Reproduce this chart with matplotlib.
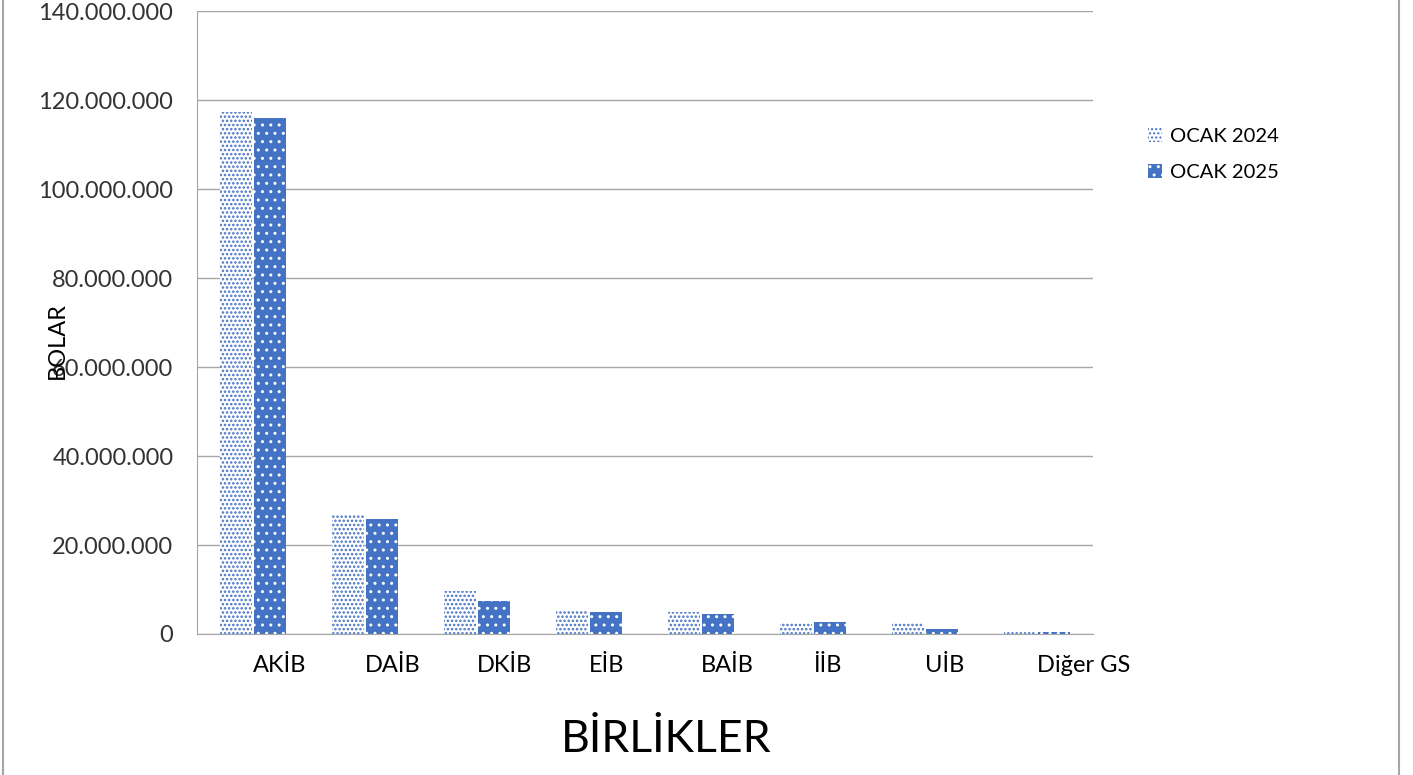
import matplotlib
matplotlib.use("Agg")
import matplotlib.pyplot as plt
from matplotlib.lines import Line2D
from matplotlib.ticker import FuncFormatter
import numpy as np

categories = ["AKİB", "DAİB", "DKİB", "EİB", "BAİB", "İİB", "UİB", "Diğer GS"]
ocak_2024 = [117.4e6, 26.7e6, 9.7e6, 5.45e6, 4.9e6, 2.4e6, 2.55e6, 0.6e6]
ocak_2025 = [116.0e6, 25.8e6, 7.4e6, 4.9e6, 4.6e6, 2.6e6, 1.2e6, 0.35e6]
series_labels = ["OCAK 2024", "OCAK 2025"]
y_ticks = [0, 20e6, 40e6, 60e6, 80e6, 100e6, 120e6, 140e6]

plt.rcParams["font.family"] = ["Lato", "DejaVu Sans"]

W, H = 1413, 775
fig = plt.figure(figsize=(W / 100, H / 100), dpi=100)
ax = fig.add_axes([197 / W, 1 - 634 / H, (1093 - 197) / W, (634 - 11) / H])

blue = "#4472C4"
x = np.arange(len(categories))
w = 0.29
plt.rcParams["hatch.linewidth"] = 1.2
b1 = ax.bar(x - 0.15, ocak_2024, w, facecolor="white", edgecolor=blue, linewidth=0,
            hatch="....", label=series_labels[0], zorder=3)
plt.rcParams["hatch.linewidth"] = 1.0
b2 = ax.bar(x + 0.15, ocak_2025, w, facecolor=blue, edgecolor="white", linewidth=0,
            hatch="..", label=series_labels[1], zorder=3)

ax.set_xlim(-0.5, len(categories) - 0.5)
ax.set_ylim(0, 140e6)
ax.set_yticks(y_ticks)
ax.yaxis.set_major_formatter(FuncFormatter(lambda v, p: f"{int(v):,}".replace(",", ".")))
ax.grid(axis="y", color="#A6A6A6", linewidth=1, zorder=0)
ax.set_axisbelow(True)
for s in ["top", "right"]:
    ax.spines[s].set_visible(False)
ax.spines["left"].set_color("#A6A6A6")
ax.spines["bottom"].set_color("#A6A6A6")
ax.tick_params(axis="y", length=0, pad=17, labelsize=17, labelcolor="#333333")
ax.tick_params(axis="x", length=0, pad=15)
ax.set_xticks(x)
ax.set_xticklabels(categories, ha="left", fontsize=17, color="#000000")

fig.text(57 / W, 1 - 341 / H, "BOLAR", rotation=90, ha="center", va="center", fontsize=17)
fig.text(666 / W, 1 - 740 / H, "BİRLİKLER", ha="center", va="center", fontsize=32)

fig.legend(handles=[b1, b2], labels=series_labels, loc="upper left",
           bbox_to_anchor=(1130 / W, 1 - 110 / H), frameon=False, fontsize=14.5,
           handlelength=0.7, handleheight=0.7, handletextpad=0.4, labelspacing=0.95)

fig.add_artist(Line2D([3 / W, 3 / W], [0, 1], color="#A6A6A6", linewidth=1.5))
fig.add_artist(Line2D([1399 / W, 1399 / W], [0, 1], color="#A6A6A6", linewidth=1.5))

fig.savefig("out.png", dpi=100)
